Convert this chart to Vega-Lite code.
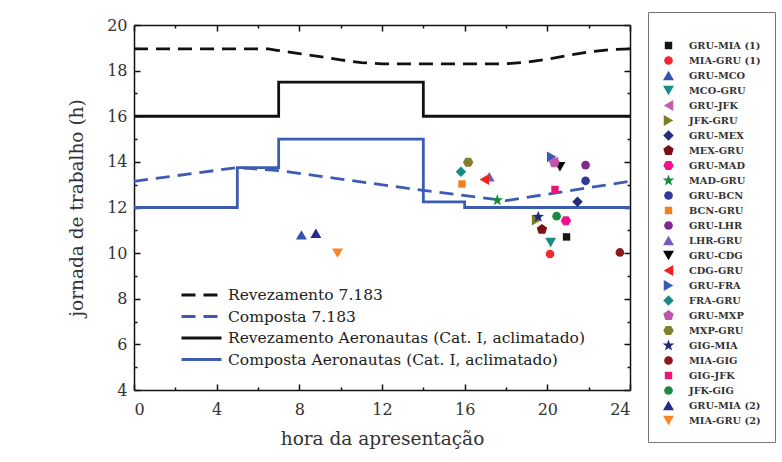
{
  "$schema": "https://vega.github.io/schema/vega-lite/v6.json",
  "width": 496,
  "height": 365,
  "autosize": {"type": "none"},
  "padding": {"left": 134, "top": 25, "right": 152, "bottom": 72},
  "background": "white",
  "config": {
    "view": {"stroke": null},
    "axis": {
      "grid": false,
      "domainColor": "#111111",
      "domainWidth": 1.5,
      "tickColor": "#111111",
      "tickWidth": 1.5,
      "labelFont": "DejaVu Serif",
      "labelFontSize": 16,
      "labelColor": "#333333",
      "titleFont": "DejaVu Serif",
      "titleFontSize": 18.5,
      "titleFontWeight": "normal",
      "titleColor": "#333333"
    }
  },
  "datasets": {
    "linhas": [
      {"serie": "Revezamento 7.183", "hora": 0, "jornada": 18.95},
      {"serie": "Revezamento 7.183", "hora": 6.5, "jornada": 18.95},
      {"serie": "Revezamento 7.183", "hora": 7, "jornada": 18.88},
      {"serie": "Revezamento 7.183", "hora": 8, "jornada": 18.75},
      {"serie": "Revezamento 7.183", "hora": 9, "jornada": 18.61},
      {"serie": "Revezamento 7.183", "hora": 10, "jornada": 18.47},
      {"serie": "Revezamento 7.183", "hora": 11, "jornada": 18.35},
      {"serie": "Revezamento 7.183", "hora": 12, "jornada": 18.3},
      {"serie": "Revezamento 7.183", "hora": 18, "jornada": 18.3},
      {"serie": "Revezamento 7.183", "hora": 19, "jornada": 18.37},
      {"serie": "Revezamento 7.183", "hora": 20, "jornada": 18.5},
      {"serie": "Revezamento 7.183", "hora": 21, "jornada": 18.67},
      {"serie": "Revezamento 7.183", "hora": 22, "jornada": 18.82},
      {"serie": "Revezamento 7.183", "hora": 23, "jornada": 18.92},
      {"serie": "Revezamento 7.183", "hora": 24, "jornada": 18.95},
      {"serie": "Composta 7.183", "hora": 0, "jornada": 13.15},
      {"serie": "Composta 7.183", "hora": 5, "jornada": 13.75},
      {"serie": "Composta 7.183", "hora": 7, "jornada": 13.62},
      {"serie": "Composta 7.183", "hora": 14, "jornada": 12.75},
      {"serie": "Composta 7.183", "hora": 18, "jornada": 12.3},
      {"serie": "Composta 7.183", "hora": 24, "jornada": 13.15},
      {"serie": "Revezamento Aeronautas (Cat. I, aclimatado)", "hora": 0, "jornada": 16},
      {"serie": "Revezamento Aeronautas (Cat. I, aclimatado)", "hora": 7, "jornada": 17.5},
      {"serie": "Revezamento Aeronautas (Cat. I, aclimatado)", "hora": 14, "jornada": 16},
      {"serie": "Revezamento Aeronautas (Cat. I, aclimatado)", "hora": 24, "jornada": 16},
      {"serie": "Composta Aeronautas (Cat. I, aclimatado)", "hora": 0, "jornada": 12},
      {"serie": "Composta Aeronautas (Cat. I, aclimatado)", "hora": 5, "jornada": 13.75},
      {"serie": "Composta Aeronautas (Cat. I, aclimatado)", "hora": 7, "jornada": 15},
      {"serie": "Composta Aeronautas (Cat. I, aclimatado)", "hora": 14, "jornada": 12.25},
      {"serie": "Composta Aeronautas (Cat. I, aclimatado)", "hora": 16, "jornada": 12},
      {"serie": "Composta Aeronautas (Cat. I, aclimatado)", "hora": 24, "jornada": 12}
    ],
    "voos": [
      {"rota": "GRU-MIA (1)", "hora": 20.93, "jornada": 10.71},
      {"rota": "MIA-GRU (1)", "hora": 20.13, "jornada": 9.96},
      {"rota": "GRU-MCO", "hora": 8.1, "jornada": 10.8},
      {"rota": "MCO-GRU", "hora": 20.16, "jornada": 10.47},
      {"rota": "GRU-JFK", "hora": 20.3, "jornada": 14.0},
      {"rota": "JFK-GRU", "hora": 19.48, "jornada": 11.45},
      {"rota": "GRU-MEX", "hora": 21.46, "jornada": 12.25},
      {"rota": "MEX-GRU", "hora": 19.74, "jornada": 11.04},
      {"rota": "GRU-MAD", "hora": 20.9, "jornada": 11.42},
      {"rota": "MAD-GRU", "hora": 17.58, "jornada": 12.32},
      {"rota": "GRU-BCN", "hora": 21.85, "jornada": 13.17},
      {"rota": "BCN-GRU", "hora": 15.87, "jornada": 13.03},
      {"rota": "GRU-LHR", "hora": 21.85, "jornada": 13.86},
      {"rota": "LHR-GRU", "hora": 17.19, "jornada": 13.35},
      {"rota": "GRU-CDG", "hora": 20.61, "jornada": 13.79},
      {"rota": "CDG-GRU", "hora": 16.95, "jornada": 13.23},
      {"rota": "GRU-FRA", "hora": 20.21, "jornada": 14.22},
      {"rota": "FRA-GRU", "hora": 15.82, "jornada": 13.57},
      {"rota": "GRU-MXP", "hora": 20.34, "jornada": 13.96},
      {"rota": "MXP-GRU", "hora": 16.17, "jornada": 13.98},
      {"rota": "GIG-MIA", "hora": 19.56, "jornada": 11.59},
      {"rota": "MIA-GIG", "hora": 23.51, "jornada": 10.03},
      {"rota": "GIG-JFK", "hora": 20.37, "jornada": 12.79},
      {"rota": "JFK-GIG", "hora": 20.45, "jornada": 11.62},
      {"rota": "GRU-MIA (2)", "hora": 8.8, "jornada": 10.87},
      {"rota": "MIA-GRU (2)", "hora": 9.85, "jornada": 10.0}
    ]
  },
  "layer": [
    {
      "data": {"name": "linhas"},
      "transform": [{"filter": "datum.serie === 'Revezamento 7.183'"}],
      "mark": {"type": "line", "strokeWidth": 2.8, "strokeCap": "butt"},
      "encoding": {
        "x": {"field": "hora", "type": "quantitative", "scale": {"domain": [0, 24], "nice": false, "zero": false},
          "axis": {"orient": "bottom", "values": [0, 4, 8, 12, 16, 20, 24], "tickSize": -6, "labelPadding": 17, "title": "hora da apresentação", "titlePadding": 12, "format": "d"}},
        "y": {"field": "jornada", "type": "quantitative", "scale": {"domain": [4, 20], "nice": false, "zero": false},
          "axis": {"orient": "left", "values": [4, 6, 8, 10, 12, 14, 16, 18, 20], "tickSize": -6, "labelPadding": 13, "title": "jornada de trabalho (h)", "titlePadding": 20, "format": "d"}},
        "stroke": {"field": "serie", "type": "nominal",
          "scale": {"domain": ["Revezamento 7.183", "Composta 7.183", "Revezamento Aeronautas (Cat. I, aclimatado)", "Composta Aeronautas (Cat. I, aclimatado)"], "range": ["#111111", "#3c5cb4", "#111111", "#3c5cb4"]},
          "legend": {"orient": "none", "legendX": 46, "legendY": 260, "title": null, "padding": 0, "symbolType": "stroke", "symbolSize": 1600, "symbolStrokeWidth": 3, "clipHeight": 20, "labelFont": "DejaVu Serif", "labelFontSize": 15.5, "labelColor": "#222222", "labelOffset": 5, "rowPadding": 1.5, "labelLimit": 500}},
        "strokeDash": {"field": "serie", "type": "nominal",
          "scale": {"domain": ["Revezamento 7.183", "Composta 7.183", "Revezamento Aeronautas (Cat. I, aclimatado)", "Composta Aeronautas (Cat. I, aclimatado)"], "range": [[14, 8], [14, 8], [1, 0], [1, 0]]},
          "legend": {"orient": "none", "legendX": 46, "legendY": 260, "title": null, "padding": 0, "symbolType": "stroke", "symbolSize": 1600, "symbolStrokeWidth": 3, "clipHeight": 20, "labelFont": "DejaVu Serif", "labelFontSize": 15.5, "labelColor": "#222222", "labelOffset": 5, "rowPadding": 1.5, "labelLimit": 500}}
      }
    },
    {
      "data": {"name": "linhas"},
      "transform": [{"filter": "datum.serie === 'Composta 7.183'"}],
      "mark": {"type": "line", "strokeWidth": 2.8, "strokeCap": "butt"},
      "encoding": {
        "x": {"field": "hora", "type": "quantitative", "axis": {"orient": "bottom", "values": [2, 6, 10, 14, 18, 22], "tickSize": -3, "labels": false, "domain": false, "title": null}},
        "y": {"field": "jornada", "type": "quantitative", "axis": {"orient": "left", "values": [5, 7, 9, 11, 13, 15, 17, 19], "tickSize": -3, "labels": false, "domain": false, "title": null}},
        "stroke": {"field": "serie", "type": "nominal"},
        "strokeDash": {"field": "serie", "type": "nominal"}
      }
    },
    {
      "data": {"name": "linhas"},
      "transform": [{"filter": "datum.serie === 'Revezamento Aeronautas (Cat. I, aclimatado)'"}],
      "mark": {"type": "line", "strokeWidth": 2.8, "interpolate": "step-after"},
      "encoding": {
        "x": {"field": "hora", "type": "quantitative", "axis": {"orient": "top", "values": [0, 4, 8, 12, 16, 20, 24], "tickSize": -6, "labels": false, "title": null}},
        "y": {"field": "jornada", "type": "quantitative", "axis": {"orient": "right", "values": [4, 6, 8, 10, 12, 14, 16, 18, 20], "tickSize": -6, "labels": false, "title": null}},
        "stroke": {"field": "serie", "type": "nominal"},
        "strokeDash": {"field": "serie", "type": "nominal"}
      }
    },
    {
      "data": {"name": "linhas"},
      "transform": [{"filter": "datum.serie === 'Composta Aeronautas (Cat. I, aclimatado)'"}],
      "mark": {"type": "line", "strokeWidth": 2.8, "interpolate": "step-after"},
      "encoding": {
        "x": {"field": "hora", "type": "quantitative", "axis": {"orient": "top", "values": [2, 6, 10, 14, 18, 22], "tickSize": -3, "labels": false, "domain": false, "title": null}},
        "y": {"field": "jornada", "type": "quantitative", "axis": {"orient": "right", "values": [5, 7, 9, 11, 13, 15, 17, 19], "tickSize": -3, "labels": false, "domain": false, "title": null}},
        "stroke": {"field": "serie", "type": "nominal"},
        "strokeDash": {"field": "serie", "type": "nominal"}
      }
    },
    {
      "data": {"name": "voos"},
      "mark": {"type": "point", "filled": true, "opacity": 1, "strokeWidth": 0},
      "encoding": {
        "x": {"field": "hora", "type": "quantitative", "axis": null},
        "y": {"field": "jornada", "type": "quantitative", "axis": null},
        "fill": {"field": "rota", "type": "nominal",
          "scale": {"domain": ["GRU-MIA (1)", "MIA-GRU (1)", "GRU-MCO", "MCO-GRU", "GRU-JFK", "JFK-GRU", "GRU-MEX", "MEX-GRU", "GRU-MAD", "MAD-GRU", "GRU-BCN", "BCN-GRU", "GRU-LHR", "LHR-GRU", "GRU-CDG", "CDG-GRU", "GRU-FRA", "FRA-GRU", "GRU-MXP", "MXP-GRU", "GIG-MIA", "MIA-GIG", "GIG-JFK", "JFK-GIG", "GRU-MIA (2)", "MIA-GRU (2)"],
            "range": ["#151515", "#f0282d", "#3552b0", "#1a8a8a", "#c45cb4", "#7d7d25", "#252a7a", "#7a1010", "#f0148c", "#1a8a3c", "#2d3a9a", "#f28020", "#7d2a8a", "#7a5ab8", "#000000", "#f02020", "#3a5ab8", "#138a84", "#c055a8", "#808030", "#232a78", "#8a1a1a", "#e8157d", "#1a8a3c", "#232c8c", "#f5842a"]},
          "legend": {"orient": "none", "legendX": 514, "legendY": -13, "title": " ", "titleFontSize": 10, "titlePadding": 2, "padding": 14, "strokeColor": "#777777", "fillColor": "white", "labelFont": "DejaVu Serif", "labelFontWeight": "bold", "labelFontSize": 9.8, "labelColor": "#333333", "labelOffset": 14, "rowPadding": 0, "clipHeight": 15, "symbolStrokeWidth": 0, "symbolOpacity": 1, "labelLimit": 200}},
        "shape": {"field": "rota", "type": "nominal",
          "scale": {"domain": ["GRU-MIA (1)", "MIA-GRU (1)", "GRU-MCO", "MCO-GRU", "GRU-JFK", "JFK-GRU", "GRU-MEX", "MEX-GRU", "GRU-MAD", "MAD-GRU", "GRU-BCN", "BCN-GRU", "GRU-LHR", "LHR-GRU", "GRU-CDG", "CDG-GRU", "GRU-FRA", "FRA-GRU", "GRU-MXP", "MXP-GRU", "GIG-MIA", "MIA-GIG", "GIG-JFK", "JFK-GIG", "GRU-MIA (2)", "MIA-GRU (2)"],
            "range": ["square", "circle", "triangle-up", "triangle-down", "triangle-left", "triangle-right", "diamond",
              "M0,-1L0.951,-0.309L0.588,0.809L-0.588,0.809L-0.951,-0.309Z",
              "M-1,0L-0.5,-0.866L0.5,-0.866L1,0L0.5,0.866L-0.5,0.866Z",
              "M0,-1L0.235,-0.324L0.951,-0.309L0.38,0.124L0.588,0.809L0,0.4L-0.588,0.809L-0.38,0.124L-0.951,-0.309L-0.235,-0.324Z",
              "circle", "square", "circle", "triangle-up", "triangle-down", "triangle-left", "triangle-right", "diamond",
              "M0,-1L0.951,-0.309L0.588,0.809L-0.588,0.809L-0.951,-0.309Z",
              "M-1,0L-0.5,-0.866L0.5,-0.866L1,0L0.5,0.866L-0.5,0.866Z",
              "M0,-1L0.235,-0.324L0.951,-0.309L0.38,0.124L0.588,0.809L0,0.4L-0.588,0.809L-0.38,0.124L-0.951,-0.309L-0.235,-0.324Z",
              "circle", "square", "circle", "triangle-up", "triangle-down"]}},
        "size": {"field": "rota", "type": "nominal",
          "scale": {"type": "ordinal", "domain": ["GRU-MIA (1)", "MIA-GRU (1)", "GRU-MCO", "MCO-GRU", "GRU-JFK", "JFK-GRU", "GRU-MEX", "MEX-GRU", "GRU-MAD", "MAD-GRU", "GRU-BCN", "BCN-GRU", "GRU-LHR", "LHR-GRU", "GRU-CDG", "CDG-GRU", "GRU-FRA", "FRA-GRU", "GRU-MXP", "MXP-GRU", "GIG-MIA", "MIA-GIG", "GIG-JFK", "JFK-GIG", "GRU-MIA (2)", "MIA-GRU (2)"],
            "range": [55, 75, 120, 120, 120, 120, 110, 120, 110, 150, 75, 55, 75, 120, 120, 120, 120, 110, 120, 110, 150, 75, 55, 75, 120, 120]}}
      }
    }
  ],
  "resolve": {"axis": {"x": "independent", "y": "independent"}}
}
